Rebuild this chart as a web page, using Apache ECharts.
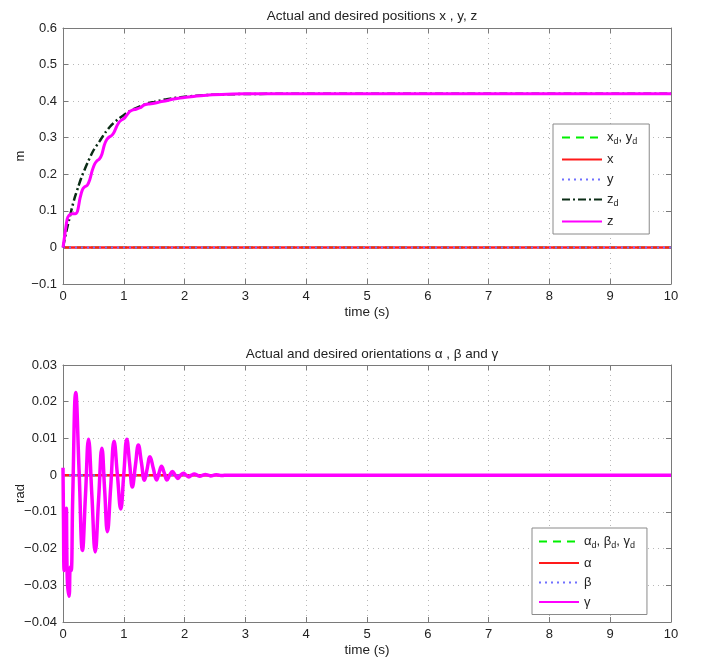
<!DOCTYPE html>
<html>
<head>
<meta charset="utf-8">
<script src="https://cdn.jsdelivr.net/npm/echarts@6/dist/echarts.min.js"></script>
<style>
html,body{margin:0;padding:0;background:#fff;}
#chart{width:708px;height:661px;}
</style>
</head>
<body>
<div id="chart"></div>
<script>
// ---- data ----
const xTicks = [0,1,2,3,4,5,6,7,8,9,10];
const posTicks = [-0.1,0,0.1,0.2,0.3,0.4,0.5,0.6];
const oriTicks = [-0.04,-0.03,-0.02,-0.01,0,0.01,0.02,0.03];

const flatTime = [0, 10];
const flatValues = [0, 0];

const zdTime = [0,0.05,0.1,0.15,0.2,0.25,0.3,0.4,0.5,0.6,0.7,0.8,0.9,1.0,1.1,1.2,1.3,1.4,1.5,1.6,1.7,1.8,1.9,2.0,2.2,2.4,2.6,2.8,3.0,3.5,10];
const zdValues = [0,0.04,0.075,0.11,0.14,0.165,0.19,0.23,0.265,0.29,0.315,0.335,0.35,0.362,0.373,0.381,0.388,0.394,0.398,0.402,0.405,0.408,0.41,0.412,0.415,0.417,0.418,0.419,0.4195,0.42,0.42];

const zTime = [0,0.03,0.07,0.1,0.15,0.2,0.24,0.28,0.32,0.36,0.4,0.44,0.48,0.52,0.56,0.6,0.64,0.68,0.72,0.76,0.8,0.84,0.88,0.92,0.96,1.0,1.05,1.1,1.15,1.2,1.27,1.33,1.4,1.5,1.6,1.7,1.8,1.9,2.0,2.2,2.4,2.7,3.0,10];
const zValues = [0,0.035,0.078,0.088,0.092,0.092,0.1,0.135,0.158,0.166,0.17,0.185,0.21,0.228,0.237,0.242,0.255,0.28,0.295,0.302,0.306,0.315,0.33,0.342,0.348,0.352,0.362,0.372,0.376,0.378,0.382,0.389,0.392,0.394,0.398,0.401,0.405,0.408,0.41,0.414,0.417,0.419,0.42,0.42];

const gammaTime = [0,0.008,0.02,0.04,0.055,0.07,0.1,0.12,0.135,0.16,0.21,0.265,0.32,0.37,0.42,0.475,0.53,0.585,0.64,0.685,0.73,0.785,0.84,0.895,0.95,1.0,1.05,1.095,1.14,1.19,1.24,1.29,1.34,1.385,1.43,1.485,1.54,1.58,1.62,1.665,1.71,1.755,1.8,1.845,1.89,1.935,1.98,2.025,2.07,2.115,2.16,2.205,2.25,2.3,2.34,2.39,2.43,2.48,2.52,2.57,2.61,2.7,10];
const gammaValues = [0.002,-0.012,-0.026,-0.022,-0.009,-0.028,-0.033,-0.025,-0.026,-0.006,0.0225,0.001,-0.0205,-0.0054,0.0098,-0.0055,-0.0209,-0.0068,0.0073,-0.004,-0.0154,-0.0031,0.0092,0,-0.0092,0.0003,0.0098,0.0033,-0.0032,0.0025,0.0082,0.0034,-0.0014,0.0018,0.005,0.0019,-0.0013,0.0006,0.0024,0.0006,-0.0013,0,0.001,0,-0.0009,0,0.0005,0,-0.0005,0,0.0003,0,-0.0003,0,0.0002,0,-0.0002,0,0.0001,0,-0.0001,0,0];

// ---- build ----
const pairs = (t, v) => t.map((x, i) => [x, v[i]]);
const FONT = 'Liberation Sans, Arial, Helvetica, sans-serif';
const TXT = '#222';
const AX = '#7a7a7a';
const minus = s => String(s).replace('-', '\u2212');

function fmt(dec) {
  return v => minus(String(Math.round(v * Math.pow(10, dec)) / Math.pow(10, dec)));
}

function xAxes(gi) {
  return [
    {type:'value', gridIndex:gi, min:0, max:10, interval:1, position:'bottom',
     name:'time (s)', nameLocation:'middle', nameGap:21, nameMoveOverlap:false,
     nameTextStyle:{fontFamily:FONT, fontSize:13.5, color:TXT},
     axisLine:{onZero:false, lineStyle:{color:AX, width:1}},
     axisTick:{inside:true, length:5, lineStyle:{color:AX}},
     axisLabel:{fontFamily:FONT, fontSize:13, color:TXT, margin:6, formatter: v => String(v)},
     splitLine:{show:true, lineStyle:{type:[1,4], color:'#b8b8b8', width:1}}},
    {type:'value', gridIndex:gi, min:0, max:10, interval:1, position:'top',
     axisLine:{onZero:false, lineStyle:{color:AX, width:1}},
     axisTick:{inside:true, length:5, lineStyle:{color:AX}},
     axisLabel:{show:false}, splitLine:{show:false}}
  ];
}
function yAxes(gi, min, max, interval, name, dec, gap) {
  return [
    {type:'value', gridIndex:gi, min:min, max:max, interval:interval, position:'left',
     name:name, nameLocation:'middle', nameGap:gap, nameRotate:90, nameMoveOverlap:false,
     nameTextStyle:{fontFamily:FONT, fontSize:13, color:TXT},
     axisLine:{onZero:false, lineStyle:{color:AX, width:1}},
     axisTick:{inside:true, length:5, lineStyle:{color:AX}},
     axisLabel:{fontFamily:FONT, fontSize:13, color:TXT, margin:6, formatter: fmt(dec)},
     splitLine:{show:true, lineStyle:{type:[1,4], color:'#b8b8b8', width:1}}},
    {type:'value', gridIndex:gi, min:min, max:max, interval:interval, position:'right',
     axisLine:{onZero:false, lineStyle:{color:AX, width:1}},
     axisTick:{inside:true, length:5, lineStyle:{color:AX}},
     axisLabel:{show:false}, splitLine:{show:false}}
  ];
}

function line(name, gi, data, color, width, type, smooth) {
  return {
    name:name, type:'line', xAxisIndex: gi*2, yAxisIndex: gi*2,
    data:data, showSymbol:false, symbol:'none', smooth: smooth || false,
    lineStyle:{color:color, width:width, type:type},
    itemStyle:{color:color}, animation:false, silent:true
  };
}

const GREEN = '#00f000', RED = '#ff1a1a', BLUE = '#7070ff', DARK = '#0b2d16', MAG = '#ff00ff';

const series = [
  line('xdyd', 0, pairs(flatTime, flatValues), GREEN, 2, [8,6]),
  line('x', 0, pairs(flatTime, flatValues), RED, 2.5, 'solid'),
  line('y', 0, pairs(flatTime, flatValues), BLUE, 2, [2,4]),
  line('zd', 0, pairs(zdTime, zdValues), DARK, 2.5, [8,3,2,3], 0.3),
  line('z', 0, pairs(zTime, zValues), MAG, 3, 'solid', 0.3),
  line('abgd', 1, pairs(flatTime, flatValues), GREEN, 2, [8,6]),
  line('a', 1, pairs(flatTime, flatValues), RED, 2.5, 'solid'),
  line('b', 1, pairs(flatTime, flatValues), BLUE, 2, [2,4]),
  line('g', 1, pairs(gammaTime, gammaValues), MAG, 3.5, 'solid', 0.45)
];

const labels = {
  xdyd:'{n|x}{s|d}{n|, y}{s|d}', x:'{n|x}', y:'{n|y}', zd:'{n|z}{s|d}', z:'{n|z}',
  abgd:'{n|\u03b1}{s|d}{n|, \u03b2}{s|d}{n|, \u03b3}{s|d}', a:'{n|\u03b1}', b:'{n|\u03b2}', g:'{n|\u03b3}'
};
const rich = {
  n:{fontFamily:FONT, fontSize:13, color:TXT},
  s:{fontFamily:FONT, fontSize:9, color:TXT, padding:[8,0,0,0]}
};
const noSym = {color:'transparent', borderColor:'transparent', borderWidth:0, opacity:0};

const option = {
  backgroundColor:'#fff',
  animation:false,
  title:[
    {text:'Actual and desired positions x , y, z', left:367, textAlign:'center', top:4,
     textStyle:{fontFamily:FONT, fontSize:13.5, fontWeight:'normal', color:TXT}},
    {text:'Actual and desired orientations \u03b1 , \u03b2 and \u03b3', left:367, textAlign:'center', top:342,
     textStyle:{fontFamily:FONT, fontSize:13.5, fontWeight:'normal', color:TXT}}
  ],
  grid:[
    {left:63, right:37, top:28, height:256, outerBoundsMode:'none', containLabel:false},
    {left:63, right:37, top:365, height:257, outerBoundsMode:'none', containLabel:false}
  ],
  xAxis: xAxes(0).concat(xAxes(1)),
  yAxis: yAxes(0, -0.1, 0.6, 0.1, 'm', 1, 36).concat(yAxes(1, -0.04, 0.03, 0.01, 'rad', 2, 36)),
  legend:[
    {data:['xdyd','x','y','zd','z'], orient:'vertical', left:553, top:124, width:97,
     itemWidth:40, itemHeight:14, itemGap:7, padding:[7,12,6,8],
     itemStyle:noSym,
     backgroundColor:'#fff', borderColor:'#8a8a8a', borderWidth:1, borderRadius:0,
     formatter: n => labels[n], textStyle:{rich:rich}, selectedMode:false},
    {data:['abgd','a','b','g'], orient:'vertical', left:532, top:528,
     itemWidth:40, itemHeight:14, itemGap:6.5, padding:[7,12,6,6],
     itemStyle:noSym,
     backgroundColor:'#fff', borderColor:'#8a8a8a', borderWidth:1, borderRadius:0,
     formatter: n => labels[n], textStyle:{rich:rich}, selectedMode:false}
  ],
  series: series
};

const chart = echarts.init(document.getElementById('chart'), null, {renderer:'canvas'});
chart.setOption(option);
</script>
</body>
</html>
